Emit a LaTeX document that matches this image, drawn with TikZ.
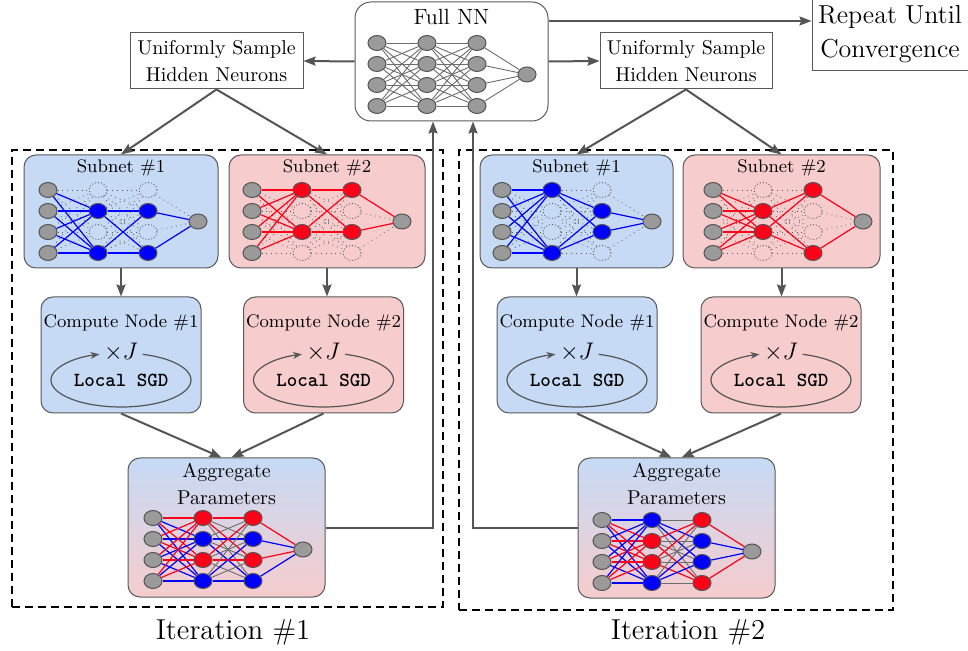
\documentclass[tikz,border=0pt]{standalone}
\usepackage{amsmath}
\usepackage{ifthen}
\usepackage{tikz}
\usetikzlibrary{shapes.geometric,arrows.meta,calc}

\definecolor{bluebox}{HTML}{C6DAF5}
\definecolor{redbox}{HTML}{F6CCCD}
\definecolor{unitgrey}{HTML}{9A9A9A}
\definecolor{arrowgrey}{HTML}{555555}
\definecolor{netred}{HTML}{FF0018}

\tikzset{
  unit/.style={ellipse,inner sep=0pt,minimum width=9pt,minimum height=7.5pt,line width=0.5pt},
  greyunit/.style={unit,draw=arrowgrey,fill=unitgrey},
  blueunit/.style={unit,draw=arrowgrey,fill=blue},
  redunit/.style={unit,draw=arrowgrey,fill=netred},
  offunit/.style={unit,draw=arrowgrey,densely dotted,line width=0.4pt},
  greylink/.style={draw=gray!85!black,line width=0.45pt},
  bluelink/.style={draw=blue,line width=0.6pt},
  redlink/.style={draw=netred,line width=0.6pt},
  offlink/.style={draw=gray!70!black,dotted,line width=0.4pt},
  panel/.style={draw=gray!70!black,rounded corners=6pt,line width=0.5pt},
  textbox/.style={draw=gray!70!black,line width=0.5pt,align=center},
  boxtitle/.style={font=\fontsize{9.1}{11}\selectfont,inner sep=1pt},
  iterbox/.style={draw,line width=0.9pt,dash pattern=on 4pt off 2.5pt},
  flow/.style={draw=arrowgrey,line width=1pt,-{Stealth[length=6pt,width=4.5pt,inset=0.8pt]}},
  sgdloop/.style={draw=arrowgrey,line width=0.6pt,-{Stealth[length=4.5pt,width=3.5pt]}}
}

% link colour from the kinds of its two units
\newcommand\linkstyle[2]{%
  \ifthenelse{\equal{#1}{off}\OR\equal{#2}{off}}{\edef\linkkind{offlink}}{%
  \ifthenelse{\equal{#1}{grey}}{\edef\linkkind{#2link}}{%
  \ifthenelse{\equal{#2}{grey}\OR\equal{#1}{#2}}{\edef\linkkind{#1link}}{\edef\linkkind{greylink}}}}}

% #1 name, #2/#3 top input unit, #4 and #5 the two hidden layers
\newcommand\drawnet[5]{%
  \foreach \row in {1,...,4}
    \node[greyunit] (#1-0-\row) at (#2,{#3+21*(\row-1)}) {};
  \foreach \kind [count=\row] in {#4}
    \node[\kind unit] (#1-1-\row) at ({#2+50},{#3+21*(\row-1)}) {};
  \foreach \kind [count=\row] in {#5}
    \node[\kind unit] (#1-2-\row) at ({#2+100},{#3+21*(\row-1)}) {};
  \node[greyunit] (#1-3) at ({#2+150},{#3+31.5}) {};
  \foreach \p in {1,...,4}
    \foreach \kb [count=\q] in {#4}
      {\linkstyle{grey}{\kb}\draw[\linkkind] (#1-0-\p) -- (#1-1-\q);}
  \foreach \ka [count=\p] in {#4}
    \foreach \kb [count=\q] in {#5}
      {\linkstyle{\ka}{\kb}\draw[\linkkind] (#1-1-\p) -- (#1-2-\q);}
  \foreach \ka [count=\p] in {#5}
    {\linkstyle{\ka}{grey}\draw[\linkkind] (#1-2-\p) -- (#1-3);}
}

% #1 name, #2 centre x, #3 fill, #4 number
\newcommand\computenode[4]{%
  \node[panel,fill=#3,minimum width=80pt,minimum height=58pt] (#1) at (#2,355) {};
  \node[boxtitle] (#1-title) at (#2,323) {Compute Node \##4};
  \node[font=\large,inner sep=1pt] (#1-times) at (#2,352) {$\times J$};
  \node[font=\ttfamily\bfseries,inner sep=1pt] (#1-sgd) at (#2,380) {Local SGD};
  \draw[sgdloop] ($(#1-sgd)+(72:35pt and 13.5pt)$)
    arc[start angle=72,end angle=-252,x radius=35pt,y radius=13.5pt];
}

\begin{document}
\begin{tikzpicture}[x=0.5pt,y=-0.5pt]
  \useasboundingbox (0,0) rectangle (968,651);

  % full network, sampling and stopping
  \node[panel,rounded corners=8pt,minimum width=96.5pt,minimum height=59.5pt] (full) at (451.5,61.5) {};
  \node[inner sep=1pt,font=\fontsize{11}{13}\selectfont] (full-title) at (451.5,17) {Full NN};
  \drawnet{fn}{377}{43}{grey,grey,grey,grey}{grey,grey,grey,grey}

  \node[textbox,minimum width=86.5pt,minimum height=28pt] (sampleL) at (216.5,61) {Uniformly Sample\\[1.5pt]Hidden Neurons};
  \node[textbox,minimum width=86pt,minimum height=28pt] (sampleR) at (686,61) {Uniformly Sample\\[1.5pt]Hidden Neurons};
  \node[textbox,minimum width=80pt,minimum height=50pt] (rep) at (892,21) {};
  \node[align=center,font=\fontsize{13}{16}\selectfont] (rep-text) at (890,34) {Repeat Until\\[1pt]Convergence};

  \draw[flow] (full.west) -- (sampleL.east);
  \draw[flow] (full.east) -- (sampleR.west);
  \draw[flow] (full.east |- rep.west) -- (rep.west);

  % iterations
  \node[iterbox,minimum width=215.5pt,minimum height=228.5pt] (iter1) at (227.5,378.5) {};
  \node[iterbox,minimum width=217pt,minimum height=230pt] (iter2) at (676,380) {};
  \node[font=\fontsize{14.4}{17}\selectfont] (iter1-label) at (233,632) {Iteration \#1};
  \node[font=\fontsize{14.4}{17}\selectfont] (iter2-label) at (688,632) {Iteration \#2};

  % subnets
  \node[panel,fill=bluebox,minimum width=97pt,minimum height=56.5pt] (sub1L) at (121,211.5) {};
  \node[panel,fill=redbox,minimum width=98pt,minimum height=56.5pt] (sub2L) at (327,211.5) {};
  \node[panel,fill=bluebox,minimum width=96.5pt,minimum height=56.5pt] (sub1R) at (576.5,211.5) {};
  \node[panel,fill=redbox,minimum width=98.5pt,minimum height=56.5pt] (sub2R) at (781.5,211.5) {};
  \node[boxtitle] (sub1L-title) at (121,168) {Subnet \#1};
  \node[boxtitle] (sub2L-title) at (327,168) {Subnet \#2};
  \node[boxtitle] (sub1R-title) at (576.5,168) {Subnet \#1};
  \node[boxtitle] (sub2R-title) at (781.5,168) {Subnet \#2};
  \drawnet{s1L}{48}{190}{off,blue,off,blue}{off,blue,off,blue}
  \drawnet{s2L}{252}{190}{red,off,red,off}{red,off,red,off}
  \drawnet{s1R}{502}{190}{blue,off,off,blue}{off,blue,blue,off}
  \drawnet{s2R}{713}{190}{off,red,red,off}{red,off,off,red}

  \draw[flow] (sampleL.south) -- (sub1L.north);
  \draw[flow] (sampleL.south) -- (sub2L.north);
  \draw[flow] (sampleR.south) -- (sub1R.north);
  \draw[flow] (sampleR.south) -- (sub2R.north);

  % local training
  \computenode{comp1L}{121}{bluebox}{1}
  \computenode{comp2L}{323.5}{redbox}{2}
  \computenode{comp1R}{577}{bluebox}{1}
  \computenode{comp2R}{781}{redbox}{2}

  \draw[flow] (sub1L.south) -- (sub1L.south |- comp1L.north);
  \draw[flow] (sub2L.south) -- (sub2L.south |- comp2L.north);
  \draw[flow] (sub1R.south) -- (sub1R.south |- comp1R.north);
  \draw[flow] (sub2R.south) -- (sub2R.south |- comp2R.north);

  % aggregation
  \node[panel,top color=bluebox,bottom color=redbox,minimum width=98.5pt,minimum height=69.5pt] (aggL) at (226.5,527.5) {};
  \node[panel,top color=bluebox,bottom color=redbox,minimum width=98.5pt,minimum height=70pt] (aggR) at (676.5,528) {};
  \node[align=center,inner sep=1pt] (aggL-title) at (226.5,483.5) {Aggregate\\[1.5pt]Parameters};
  \node[align=center,inner sep=1pt] (aggR-title) at (676.5,483.5) {Aggregate\\[1.5pt]Parameters};
  \drawnet{aL}{153}{518}{red,blue,red,blue}{red,blue,red,blue}
  \drawnet{aR}{602}{520}{blue,red,red,blue}{red,blue,blue,red}

  \draw[flow] (comp1L.south) -- ([xshift=-2.5pt]aggL.north);
  \draw[flow] (comp2L.south) -- ([xshift=2.5pt]aggL.north);
  \draw[flow] (comp1R.south) -- ([xshift=-2.5pt]aggR.north);
  \draw[flow] (comp2R.south) -- ([xshift=2.5pt]aggR.north);

  \draw[flow] (aggL.east) -| ([xshift=-9.25pt]full.south);
  \draw[flow] (aggR.west) -| ([xshift=10.75pt]full.south);
\end{tikzpicture}
\end{document}
